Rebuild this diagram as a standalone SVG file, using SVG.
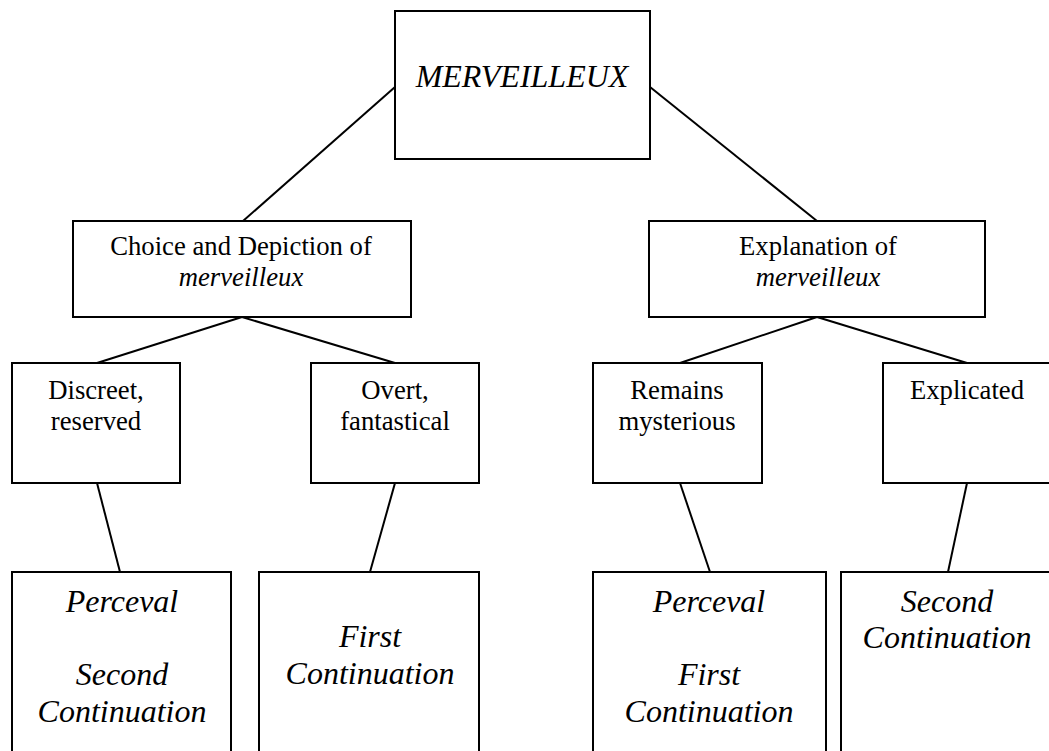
<svg xmlns="http://www.w3.org/2000/svg" width="1049" height="751" viewBox="0 0 1049 751">
<style>
rect{fill:#fff;stroke:#000;stroke-width:2}
line{stroke:#000;stroke-width:2}
text{fill:#000;text-anchor:middle;font-family:"Liberation Serif",serif}
.m{font-size:26.7px}
.i{font-style:italic}
.b{font-size:32px;font-style:italic}
</style>
<rect width="1049" height="751" style="fill:#fff;stroke:none"/>
<g id="connectors">
<line x1="395" y1="87" x2="243" y2="221"/>
<line x1="650" y1="87" x2="817" y2="221"/>
<line x1="242" y1="317" x2="97" y2="363"/>
<line x1="242" y1="317" x2="395" y2="363"/>
<line x1="817" y1="317" x2="680" y2="363"/>
<line x1="817" y1="317" x2="967" y2="363"/>
<line x1="97" y1="483" x2="120" y2="572"/>
<line x1="395" y1="483" x2="370" y2="572"/>
<line x1="680" y1="483" x2="710" y2="572"/>
<line x1="967" y1="483" x2="948" y2="572"/>
</g>
<g id="merveilleux">
<rect x="395" y="11" width="255" height="148"/>
<text x="522" y="87" class="b">MERVEILLEUX</text>
</g>
<g id="choice">
<rect x="73" y="221" width="338" height="96"/>
<text x="241" y="255" class="m">Choice and Depiction of</text>
<text x="241" y="286" class="m i">merveilleux</text>
</g>
<g id="explanation">
<rect x="649" y="221" width="336" height="96"/>
<text x="818" y="255" class="m">Explanation of</text>
<text x="818" y="286" class="m i">merveilleux</text>
</g>
<g id="discreet">
<rect x="12" y="363" width="168" height="120"/>
<text x="96" y="399" class="m">Discreet,</text>
<text x="96" y="430" class="m">reserved</text>
</g>
<g id="overt">
<rect x="311" y="363" width="168" height="120"/>
<text x="395" y="399" class="m">Overt,</text>
<text x="395" y="430" class="m">fantastical</text>
</g>
<g id="remains">
<rect x="593" y="363" width="169" height="120"/>
<text x="677" y="399" class="m">Remains</text>
<text x="677" y="430" class="m">mysterious</text>
</g>
<g id="explicated">
<rect x="883" y="363" width="170" height="120"/>
<text x="967" y="399" class="m">Explicated</text>
</g>
<g id="box1">
<rect x="12" y="572" width="219" height="190"/>
<text x="122" y="612" class="b">Perceval</text>
<text x="122" y="685" class="b">Second</text>
<text x="122" y="722" class="b">Continuation</text>
</g>
<g id="box2">
<rect x="259" y="572" width="220" height="190"/>
<text x="370" y="647" class="b">First</text>
<text x="370" y="684" class="b">Continuation</text>
</g>
<g id="box3">
<rect x="593" y="572" width="233" height="190"/>
<text x="709" y="612" class="b">Perceval</text>
<text x="709" y="685" class="b">First</text>
<text x="709" y="722" class="b">Continuation</text>
</g>
<g id="box4">
<rect x="841" y="572" width="212" height="190"/>
<text x="947" y="612" class="b">Second</text>
<text x="947" y="648" class="b">Continuation</text>
</g>
</svg>
